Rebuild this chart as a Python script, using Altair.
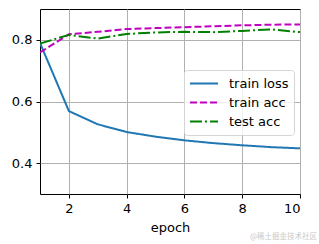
import altair as alt
import pandas as pd

epochs = [1, 2, 3, 4, 5, 6, 7, 8, 9, 10]
train_loss = [0.790, 0.569, 0.526, 0.501, 0.486, 0.474, 0.465, 0.458, 0.452, 0.448]
train_acc = [0.759, 0.818, 0.826, 0.835, 0.838, 0.841, 0.844, 0.847, 0.849, 0.850]
test_acc = [0.788, 0.816, 0.804, 0.819, 0.824, 0.826, 0.825, 0.829, 0.834, 0.825]
series_names = ["train loss", "train acc", "test acc"]
colors = ["#1f77b4", "#bf00bf", "#008000"]
dashes = [[1, 0], [7, 3], [12, 3, 2, 3]]
x_ticks = [2, 4, 6, 8, 10]
y_ticks = [0.4, 0.6, 0.8]
watermark = "@稀土掘金技术社区"

rows = []
for name, vals in zip(series_names, [train_loss, train_acc, test_acc]):
    for e, v in zip(epochs, vals):
        rows.append({"epoch": e, "value": v, "series": name})
df = pd.DataFrame(rows)

FONT = "DejaVu Sans"

leg = alt.Legend(title=None, orient="none", legendX=144, legendY=61)

lines = alt.Chart(df).mark_line(strokeWidth=2, clip=True).encode(
    x=alt.X("epoch:Q", scale=alt.Scale(domain=[1, 10], nice=False, zero=False),
            axis=alt.Axis(values=x_ticks, title="epoch", format="d")),
    y=alt.Y("value:Q", scale=alt.Scale(domain=[0.3, 0.9], nice=False, zero=False),
            axis=alt.Axis(values=y_ticks, title=None, format=".1f")),
    color=alt.Color("series:N", scale=alt.Scale(domain=series_names, range=colors), legend=leg),
    strokeDash=alt.StrokeDash("series:N", scale=alt.Scale(domain=series_names, range=dashes), legend=leg),
    order=alt.Order("epoch:Q"),
)

wm = alt.Chart(pd.DataFrame({"t": [watermark]})).mark_text(
    align="right", baseline="middle", fontSize=7.5, color="#c8c8c8", font="Noto Sans CJK SC"
).encode(text="t:N", x=alt.value(277), y=alt.value(228))

chart = alt.layer(lines, wm).properties(
    width=260, height=185,
    padding={"left": 40, "top": 9, "right": 19, "bottom": 50},
    autosize=alt.AutoSizeParams(type="none"),
).configure_view(
    stroke="black", strokeWidth=1
).configure_axis(
    labelFont=FONT, labelFontSize=13, labelColor="black",
    titleFont=FONT, titleFontSize=13, titleColor="black", titleFontWeight="normal",
    gridColor="#b0b0b0", gridWidth=1, gridOpacity=1,
    domain=False, tickColor="black", tickSize=4, tickWidth=1, labelPadding=4,
    titlePadding=6,
).configure_legend(
    labelFont=FONT, labelFontSize=13, labelColor="black",
    symbolType="stroke", symbolSize=784, symbolStrokeWidth=2,
    fillColor="rgba(255,255,255,0.8)", strokeColor="#d5d5d5", cornerRadius=3, padding=5,
    rowPadding=2, labelOffset=10, clipHeight=17,
).configure_line(strokeCap="butt")

chart.save("out.html", embed_options={"renderer": "svg", "actions": False})
